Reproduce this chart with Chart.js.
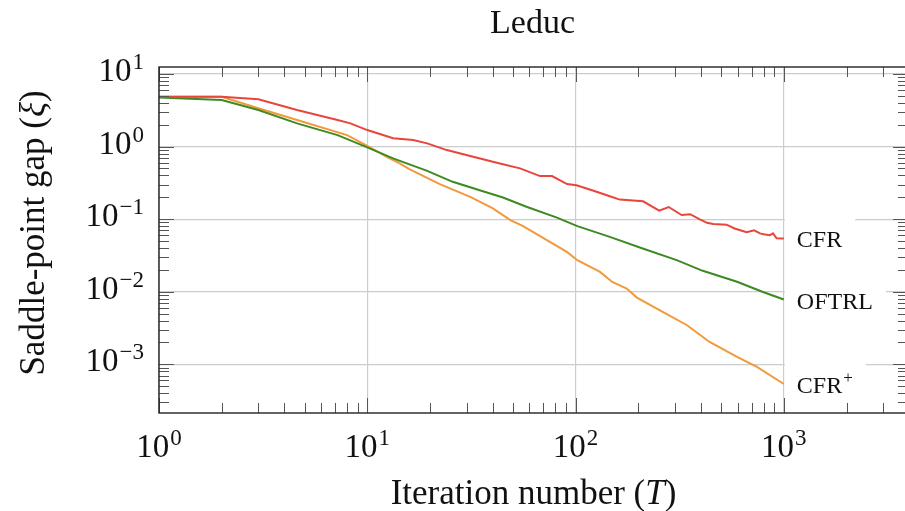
<!DOCTYPE html>
<html>
<head>
<meta charset="utf-8">
<script src="https://cdn.jsdelivr.net/npm/chart.js@4.4.1/dist/chart.umd.min.js"></script>
<style>
  html, body { margin: 0; padding: 0; background: #fff; overflow: hidden; }
  #wrap { width: 905px; height: 511px; overflow: hidden; position: relative; }
  canvas { display: block; }
</style>
</head>
<body>
<div id="wrap"><canvas id="chart-leduc" width="915" height="511"></canvas></div>
<script>
// ─── Data ──────────────────────────────────────────────────
const cfrT = [1, 2, 3, 4.6, 7.2, 8.3, 10, 13.3, 16.6, 19.4, 24.1, 31.2, 43.3, 54.1, 67.5, 77.1, 91, 101, 122, 146,
  163, 211, 252, 280, 323, 355, 393, 428, 458, 531, 580, 663, 720, 768, 800, 857, 887, 923, 1000];
const cfrGap = [4.86, 4.86, 4.48, 3.19, 2.32, 2.09, 1.69, 1.30, 1.23, 1.107, 0.895, 0.740, 0.586, 0.501, 0.392, 0.392, 0.304, 0.293, 0.246, 0.207,
  0.186, 0.176, 0.131, 0.147, 0.114, 0.117, 0.100, 0.089, 0.086, 0.084, 0.0744, 0.066, 0.070, 0.0636, 0.0621, 0.0602, 0.0636, 0.0545, 0.0542];

const oftrlT = [1, 2, 3, 4.6, 7.2, 10, 13.3, 19.4, 25.7, 35.9, 44.8, 58.1, 81.4, 102, 146, 210, 306, 408, 596, 794, 1000];
const oftrlGap = [4.75, 4.37, 3.19, 2.09, 1.44, 0.975, 0.687, 0.463, 0.327, 0.243, 0.199, 0.148, 0.105, 0.080, 0.057, 0.0394, 0.0272, 0.0194, 0.0137, 0.0099, 0.0078];

const cfrPlusT = [1, 2, 3, 4.6, 8, 10, 12.4, 14.3, 16, 22.3, 31.2, 40.1, 48.6, 55.7, 72.8, 90.8, 102, 131, 150, 176,
  197, 262, 343, 440, 596, 743, 1000];
const cfrPlusGap = [4.86, 4.86, 3.37, 2.32, 1.44, 1.02, 0.723, 0.586, 0.485, 0.304, 0.203, 0.141, 0.0969, 0.0809, 0.0513, 0.0354, 0.0272, 0.01875, 0.01365, 0.01107,
  0.0083, 0.00526, 0.00345, 0.00203, 0.00126, 0.000918, 0.000535];

const xMajor = [1, 10, 100, 1000];
const yMajor = [1e-3, 1e-2, 1e-1, 1, 10];
const xRange = [1, 3945];
const yRange = [2.13e-4, 12.5];

const seriesLabels = ['CFR', 'OFTRL', 'CFR'];

const SERIF = '"Liberation Serif", "DejaVu Serif", serif';
const RED = '#e8453c', GREEN = '#3d8a22', ORANGE = '#f2993a';

function toPoints(ts, vs) { return ts.map((t, i) => ({ x: t, y: vs[i] })); }

// ─── helpers ───────────────────────────────────────────────
function drawPower(ctx, exp, x, y, align) {
  const base = '10';
  const sup = String(exp).replace('-', '\u2212');
  ctx.font = '33px ' + SERIF;
  const wb = ctx.measureText(base).width;
  ctx.font = '23px ' + SERIF;
  const ws = ctx.measureText(sup).width;
  const w = wb + 1 + ws;
  const left = align === 'right' ? x - w : x - w / 2;
  ctx.textAlign = 'left';
  ctx.textBaseline = 'alphabetic';
  ctx.fillStyle = '#111';
  ctx.font = '33px ' + SERIF;
  ctx.fillText(base, left, y);
  ctx.font = '23px ' + SERIF;
  ctx.fillText(sup, left + wb + 1, y - 12);
}

function drawMixed(ctx, parts, cx, y) {
  // parts: [text, italic]
  let total = 0;
  parts.forEach(p => { ctx.font = (p[1] ? 'italic ' : '') + '35px ' + SERIF; total += ctx.measureText(p[0]).width; });
  let x = cx - total / 2;
  ctx.textAlign = 'left';
  ctx.textBaseline = 'alphabetic';
  parts.forEach(p => {
    ctx.font = (p[1] ? 'italic ' : '') + '35px ' + SERIF;
    ctx.fillText(p[0], x, y);
    x += ctx.measureText(p[0]).width;
  });
}

function minorValues(lo, hi) {
  const out = [];
  for (let d = Math.floor(Math.log10(lo)); d <= Math.ceil(Math.log10(hi)); d++) {
    for (let k = 2; k <= 9; k++) {
      const v = k * Math.pow(10, d);
      if (v > lo && v < hi) out.push(v);
    }
  }
  return out;
}

// ─── frame, inward ticks, tick labels, titles, end labels ──
const decorPlugin = {
  id: 'decor',
  beforeDraw(chart) {
    const ctx = chart.ctx;
    ctx.save();
    ctx.fillStyle = '#fff';
    ctx.fillRect(0, 0, chart.width, chart.height);
    ctx.restore();
  },
  afterDatasetsDraw(chart) {
    const { ctx, chartArea: a, scales: { x, y } } = chart;
    ctx.save();

    // end-of-line labels with white boxes
    const ends = [cfrGap[cfrGap.length - 1], oftrlGap[oftrlGap.length - 1], cfrPlusGap[cfrPlusGap.length - 1]];
    const xEnd = x.getPixelForValue(cfrT[cfrT.length - 1]);
    ends.forEach((v, i) => {
      const py = y.getPixelForValue(v);
      ctx.font = '24px ' + SERIF;
      let w = ctx.measureText(seriesLabels[i]).width;
      let supW = 0;
      if (i === 2) { ctx.font = '17px ' + SERIF; supW = ctx.measureText('+').width + 1; }
      ctx.fillStyle = '#fff';
      ctx.fillRect(xEnd + 1, py - 21, 12 + w + supW + 13, 42);
      ctx.fillStyle = '#111';
      ctx.textAlign = 'left';
      ctx.textBaseline = 'alphabetic';
      ctx.font = '24px ' + SERIF;
      ctx.fillText(seriesLabels[i], xEnd + 13, py + 9);
      if (i === 2) {
        ctx.font = '17px ' + SERIF;
        ctx.fillText('+', xEnd + 13 + w + 1, py - 1);
      }
    });

    // ticks (inward, all four sides)
    ctx.strokeStyle = '#555';
    ctx.lineWidth = 1;
    ctx.beginPath();
    const xMin = minorValues(xRange[0], xRange[1]);
    const yMin = minorValues(yRange[0], yRange[1]);
    xMajor.forEach(v => {
      const px = Math.round(x.getPixelForValue(v)) + 0.5;
      ctx.moveTo(px, a.bottom); ctx.lineTo(px, a.bottom - 15);
      ctx.moveTo(px, a.top); ctx.lineTo(px, a.top + 15);
    });
    xMin.forEach(v => {
      const px = Math.round(x.getPixelForValue(v)) + 0.5;
      ctx.moveTo(px, a.bottom); ctx.lineTo(px, a.bottom - 10);
      ctx.moveTo(px, a.top); ctx.lineTo(px, a.top + 10);
    });
    yMajor.forEach(v => {
      const py = Math.round(y.getPixelForValue(v)) + 0.5;
      ctx.moveTo(a.left, py); ctx.lineTo(a.left + 15, py);
      ctx.moveTo(a.right, py); ctx.lineTo(a.right - 15, py);
    });
    yMin.forEach(v => {
      const py = Math.round(y.getPixelForValue(v)) + 0.5;
      ctx.moveTo(a.left, py); ctx.lineTo(a.left + 10, py);
      ctx.moveTo(a.right, py); ctx.lineTo(a.right - 10, py);
    });
    ctx.stroke();

    // frame
    ctx.strokeStyle = '#222';
    ctx.lineWidth = 1.4;
    ctx.strokeRect(a.left, a.top, a.right - a.left, a.bottom - a.top);
    ctx.restore();
  },
  afterDraw(chart) {
    const { ctx, chartArea: a, scales: { x, y } } = chart;
    ctx.save();
    ctx.fillStyle = '#111';

    // tick labels
    xMajor.forEach(v => drawPower(ctx, Math.round(Math.log10(v)), x.getPixelForValue(v), a.bottom + 44, 'center'));
    yMajor.forEach(v => drawPower(ctx, Math.round(Math.log10(v)), a.left - 15, y.getPixelForValue(v) + 7, 'right'));

    // title
    ctx.font = '34px ' + SERIF;
    ctx.textAlign = 'center';
    ctx.textBaseline = 'alphabetic';
    ctx.fillText('Leduc', (a.left + a.right) / 2 - 1, 33);

    // axis titles
    drawMixed(ctx, [['Iteration number (', false], ['T', true], [')', false]], (a.left + a.right) / 2, 504);
    ctx.translate(44, 233);
    ctx.rotate(-Math.PI / 2);
    drawMixed(ctx, [['Saddle-point gap (', false], ['\u03be', true], [')', false]], 0, 0);
    ctx.restore();
  }
};

// ─── Chart ─────────────────────────────────────────────────
const ctx = document.getElementById('chart-leduc');
new Chart(ctx, {
  type: 'scatter',
  data: {
    datasets: [
      { label: 'CFR', data: toPoints(cfrT, cfrGap), borderColor: RED },
      { label: 'OFTRL', data: toPoints(oftrlT, oftrlGap), borderColor: GREEN },
      { label: 'CFR+', data: toPoints(cfrPlusT, cfrPlusGap), borderColor: ORANGE },
    ].map(d => Object.assign(d, {
      showLine: true,
      borderWidth: 2,
      pointRadius: 0,
      tension: 0,
      fill: false,
    })),
  },
  options: {
    responsive: false,
    animation: false,
    events: [],
    layout: { padding: { left: 159, top: 67, right: 7, bottom: 98 } },
    plugins: {
      legend: { display: false },
      tooltip: { enabled: false },
      title: { display: false },
    },
    scales: {
      x: {
        type: 'logarithmic',
        min: xRange[0],
        max: xRange[1],
        afterBuildTicks: s => { s.ticks = xMajor.map(v => ({ value: v })); },
        grid: { color: '#cccccc', lineWidth: 1.2, drawTicks: false },
        border: { display: false },
        ticks: { display: false },
      },
      y: {
        type: 'logarithmic',
        min: yRange[0],
        max: yRange[1],
        afterBuildTicks: s => { s.ticks = yMajor.map(v => ({ value: v })); },
        grid: { color: '#cccccc', lineWidth: 1.2, drawTicks: false },
        border: { display: false },
        ticks: { display: false },
      },
    },
  },
  plugins: [decorPlugin],
});
</script>
</body>
</html>
